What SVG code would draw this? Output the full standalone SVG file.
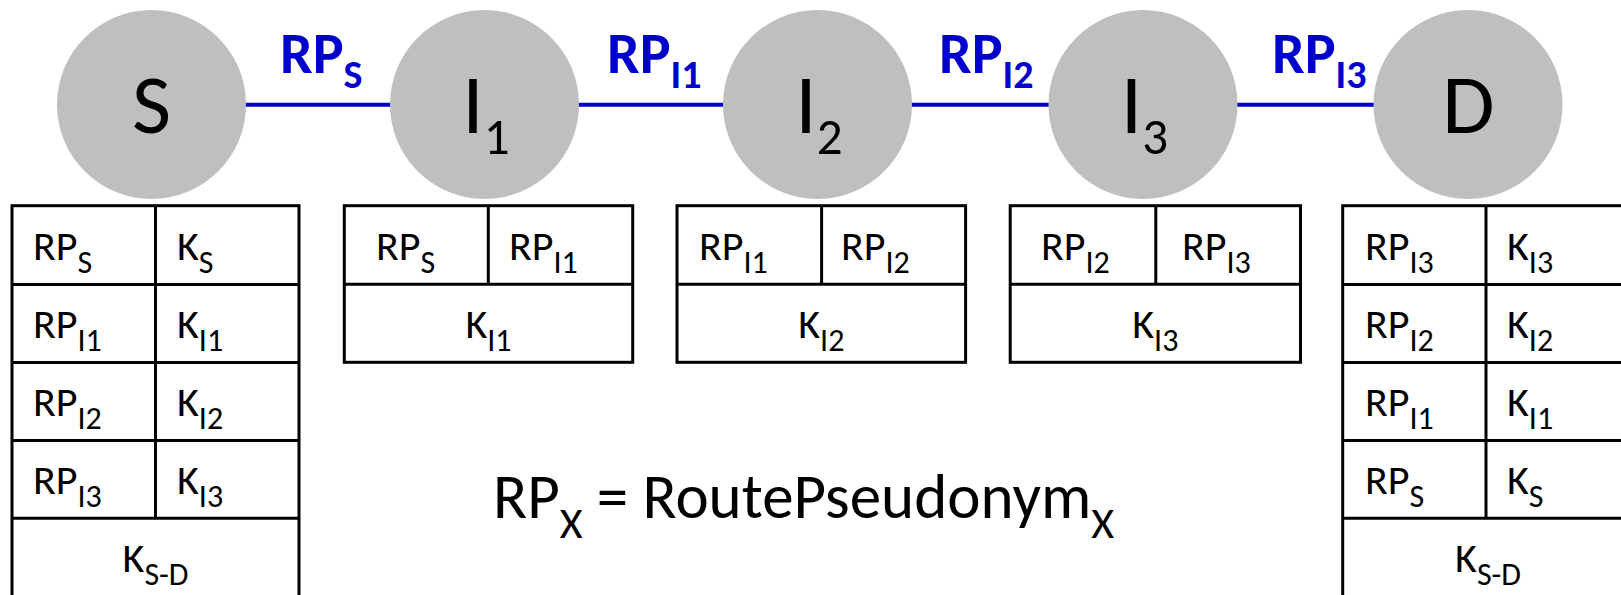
<svg xmlns="http://www.w3.org/2000/svg" width="1621" height="595" viewBox="0 0 1621 595">
<style>
text{font-family:Carlito,Calibri,Lato,"Open Sans",sans-serif;fill:#000}
.node circle{fill:#BFBFBF}
.nl{font-size:85px;text-anchor:middle}
.lbl{font-size:58px;font-weight:bold;fill:#0000CC}
.lsub{font-size:40px}
.cell{font-size:42px}
.csub{font-size:32px}
.mid{text-anchor:middle}
.tb rect,.tb line{fill:none;stroke:#000;stroke-width:3}
.conn line{stroke:#0000CC;stroke-width:4}
</style>
<rect width="1621" height="595" fill="#fff"/>
<g id="connectors" class="conn">
<line x1="240" y1="104.7" x2="395" y2="104.7"/>
<line x1="575" y1="104.7" x2="728" y2="104.7"/>
<line x1="907" y1="104.7" x2="1054" y2="104.7"/>
<line x1="1232" y1="104.7" x2="1378" y2="104.7"/>
<text class="lbl" x="280" y="73.3">RP<tspan class="lsub" dy="15">S</tspan></text>
<text class="lbl" x="607" y="73.3">RP<tspan class="lsub" dy="15">I1</tspan></text>
<text class="lbl" x="939" y="73.3">RP<tspan class="lsub" dy="15">I2</tspan></text>
<text class="lbl" x="1272" y="73.3">RP<tspan class="lsub" dy="15">I3</tspan></text>
</g>
<g id="node-S" class="node"><circle cx="151.5" cy="104.5" r="94.5"/><text class="nl" x="151.5" y="133.3">S</text></g>
<g id="node-I1" class="node"><circle cx="484.5" cy="104.5" r="94.5"/><text class="nl" x="486" y="133.3">I<tspan font-size="51" dy="21">1</tspan></text></g>
<g id="node-I2" class="node"><circle cx="817.5" cy="104.5" r="94.5"/><text class="nl" x="819" y="133.3">I<tspan font-size="51" dy="21">2</tspan></text></g>
<g id="node-I3" class="node"><circle cx="1143" cy="104.5" r="94.5"/><text class="nl" x="1144.5" y="133.3">I<tspan font-size="51" dy="21">3</tspan></text></g>
<g id="node-D" class="node"><circle cx="1468" cy="104.5" r="94.5"/><text class="nl" x="1468.5" y="133.3">D</text></g>

<g id="table-S" class="tb">
<rect x="12" y="205.7" width="287" height="420"/>
<line x1="155.5" y1="205.7" x2="155.5" y2="518.3"/>
<line x1="12" y1="284.4" x2="299" y2="284.4"/>
<line x1="12" y1="362.6" x2="299" y2="362.6"/>
<line x1="12" y1="440.6" x2="299" y2="440.6"/>
<line x1="12" y1="518.3" x2="299" y2="518.3"/>
<text class="cell" x="33" y="259.5">RP<tspan class="csub" dy="13">S</tspan></text>
<text class="cell" x="177" y="259.5">K<tspan class="csub" dy="13">S</tspan></text>
<text class="cell" x="33" y="337.7">RP<tspan class="csub" dy="13">I1</tspan></text>
<text class="cell" x="177" y="337.7">K<tspan class="csub" dy="13">I1</tspan></text>
<text class="cell" x="33" y="415.9">RP<tspan class="csub" dy="13">I2</tspan></text>
<text class="cell" x="177" y="415.9">K<tspan class="csub" dy="13">I2</tspan></text>
<text class="cell" x="33" y="494">RP<tspan class="csub" dy="13">I3</tspan></text>
<text class="cell" x="177" y="494">K<tspan class="csub" dy="13">I3</tspan></text>
<text class="cell mid" x="155.5" y="572.3">K<tspan class="csub" dy="13">S-D</tspan></text>
</g>

<g id="table-I1" class="tb">
<rect x="344.3" y="205.7" width="288.4" height="156.6"/>
<line x1="488.3" y1="205.7" x2="488.3" y2="284.3"/>
<line x1="344.3" y1="284.3" x2="632.7" y2="284.3"/>
<text class="cell" x="376" y="259.5">RP<tspan class="csub" dy="13">S</tspan></text>
<text class="cell" x="509" y="259.5">RP<tspan class="csub" dy="13">I1</tspan></text>
<text class="cell mid" x="488.5" y="337.7">K<tspan class="csub" dy="13">I1</tspan></text>
</g>

<g id="table-I2" class="tb">
<rect x="677" y="205.7" width="288.6" height="156.6"/>
<line x1="821.6" y1="205.7" x2="821.6" y2="284.3"/>
<line x1="677" y1="284.3" x2="965.6" y2="284.3"/>
<text class="cell" x="699" y="259.5">RP<tspan class="csub" dy="13">I1</tspan></text>
<text class="cell" x="841" y="259.5">RP<tspan class="csub" dy="13">I2</tspan></text>
<text class="cell mid" x="821.3" y="337.7">K<tspan class="csub" dy="13">I2</tspan></text>
</g>

<g id="table-I3" class="tb">
<rect x="1010.2" y="205.7" width="290.3" height="156.6"/>
<line x1="1155.8" y1="205.7" x2="1155.8" y2="284.3"/>
<line x1="1010.2" y1="284.3" x2="1300.5" y2="284.3"/>
<text class="cell" x="1041" y="259.5">RP<tspan class="csub" dy="13">I2</tspan></text>
<text class="cell" x="1182" y="259.5">RP<tspan class="csub" dy="13">I3</tspan></text>
<text class="cell mid" x="1155.3" y="337.7">K<tspan class="csub" dy="13">I3</tspan></text>
</g>

<g id="table-D" class="tb">
<rect x="1342.7" y="205.7" width="287.3" height="420"/>
<line x1="1486" y1="205.7" x2="1486" y2="518.3"/>
<line x1="1342.7" y1="284.4" x2="1630" y2="284.4"/>
<line x1="1342.7" y1="362.6" x2="1630" y2="362.6"/>
<line x1="1342.7" y1="440.6" x2="1630" y2="440.6"/>
<line x1="1342.7" y1="518.3" x2="1630" y2="518.3"/>
<text class="cell" x="1365" y="259.5">RP<tspan class="csub" dy="13">I3</tspan></text>
<text class="cell" x="1507" y="259.5">K<tspan class="csub" dy="13">I3</tspan></text>
<text class="cell" x="1365" y="337.7">RP<tspan class="csub" dy="13">I2</tspan></text>
<text class="cell" x="1507" y="337.7">K<tspan class="csub" dy="13">I2</tspan></text>
<text class="cell" x="1365" y="415.9">RP<tspan class="csub" dy="13">I1</tspan></text>
<text class="cell" x="1507" y="415.9">K<tspan class="csub" dy="13">I1</tspan></text>
<text class="cell" x="1365" y="494">RP<tspan class="csub" dy="13">S</tspan></text>
<text class="cell" x="1507" y="494">K<tspan class="csub" dy="13">S</tspan></text>
<text class="cell mid" x="1488" y="572.3">K<tspan class="csub" dy="13">S-D</tspan></text>
</g>

<g id="legend">
<text x="493" y="517.6" font-size="63">RP<tspan font-size="44" dy="20">X</tspan><tspan dy="-20"> = RoutePseudonym</tspan><tspan font-size="44" dy="20">X</tspan></text>
</g>
</svg>
